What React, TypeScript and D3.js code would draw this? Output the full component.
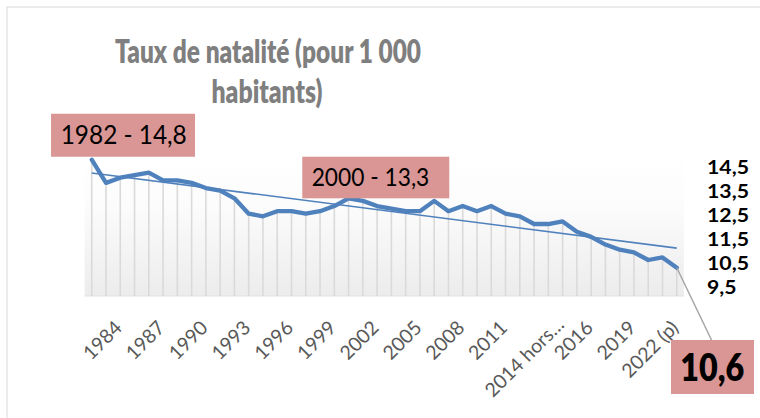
import React from "react";
import * as d3 from "d3";

const categories: string[] = [
  "1982", "1983", "1984", "1985", "1986", "1987", "1988", "1989", "1990", "1991",
  "1992", "1993", "1994", "1995", "1996", "1997", "1998", "1999", "2000", "2001",
  "2002", "2003", "2004", "2005", "2006", "2007", "2008", "2009", "2010", "2011",
  "2012", "2013", "2014 hors Mayotte", "2014", "2015", "2016", "2017", "2018", "2019", "2020",
  "2021", "2022 (p)",
];

const values: number[] = [
  14.8, 13.9, 14.1, 14.2, 14.3, 14.0, 14.0, 13.9, 13.7, 13.6,
  13.3, 12.7, 12.6, 12.8, 12.8, 12.7, 12.8, 13.0, 13.3, 13.2,
  13.0, 12.9, 12.8, 12.8, 13.2, 12.8, 13.0, 12.8, 13.0, 12.7,
  12.6, 12.3, 12.3, 12.4, 12.0, 11.8, 11.5, 11.3, 11.2, 10.9,
  11.0, 10.6,
];

const axisTicks: number[] = [14.5, 13.5, 12.5, 11.5, 10.5, 9.5];
const titleLines: string[] = ["Taux de natalité (pour 1 000", "habitants)"];
const annotations = [
  { index: 0, text: "1982 - 14,8" },
  { index: 18, text: "2000 - 13,3" },
];
const lastLabel = "10,6";

const FONT = "Lato, 'Open Sans', sans-serif";

export default function App() {
  const W = 760, H = 418;
  const plot = { left: 84.6, right: 683.9, top: 154.6, bottom: 296 };

  const x = d3.scaleBand<string>().domain(categories).range([plot.left, plot.right]);
  const cx = (i: number) => (x(categories[i]) as number) + x.bandwidth() / 2;
  const y = d3.scaleLinear().domain([9.5, 15]).range([plot.bottom, plot.top]);
  const yLab = d3.scaleLinear().domain([9.5, 14.5]).range([286.7, 166.7]);

  const line = d3.line<number>().x((_, i) => cx(i)).y((d) => y(d)).curve(d3.curveLinear);

  // linear trend (least squares)
  const n = values.length;
  const idx = d3.range(n);
  const mx = d3.mean(idx) as number;
  const my = d3.mean(values) as number;
  const slope =
    d3.sum(idx, (i) => (i - mx) * (values[i] - my)) / d3.sum(idx, (i) => (i - mx) * (i - mx));
  const icpt = my - slope * mx;
  const trend = [icpt, icpt + slope * (n - 1)];

  const tickIdx = idx.filter((i) => (i - 2) % 3 === 0);
  const shortLabel = (s: string) => (s.length > 10 ? s.slice(0, 9) + "…" : s);

  const lastI = n - 1;

  return (
    <svg width={W} height={H} style={{ position: "absolute", left: 0, top: 0, background: "#fff" }}>
      <defs>
        <linearGradient id="bg" x1="0" y1="0" x2="0" y2="1">
          <stop offset="0" stopColor="#ffffff" />
          <stop offset="0.35" stopColor="#fcfcfc" />
          <stop offset="1" stopColor="#ececec" />
        </linearGradient>
      </defs>
      <rect x={7} y={7} width={800} height={450} fill="#fff" stroke="#d9d9d9" strokeWidth={1} />

      {/* title */}
      <g fontFamily={FONT} fontWeight={800} fill="#7f7f7f" fontSize={32} textAnchor="middle">
        <text x={268} y={63.3} textLength={306} lengthAdjust="spacingAndGlyphs">{titleLines[0]}</text>
        <text x={267} y={103.3} textLength={111} lengthAdjust="spacingAndGlyphs">{titleLines[1]}</text>
      </g>

      {/* plot background */}
      <rect x={plot.left} y={plot.top} width={plot.right - plot.left} height={plot.bottom - plot.top} fill="url(#bg)" />
      <line x1={plot.left} x2={plot.right} y1={plot.bottom} y2={plot.bottom} stroke="#e3e3e3" strokeWidth={1} />

      {/* drop lines */}
      {values.map((v, i) => (
        <line key={i} x1={cx(i)} x2={cx(i)} y1={y(v)} y2={plot.bottom} stroke="#dadada" strokeWidth={1.6} />
      ))}

      {/* trend line */}
      <line x1={cx(0)} y1={y(trend[0])} x2={cx(n - 1)} y2={y(trend[1])} stroke="#4f81bd" strokeWidth={1.6} />

      {/* data line */}
      <path d={line(values) as string} fill="none" stroke="#4f81bd" strokeWidth={4.3} strokeLinejoin="round" strokeLinecap="round" />

      {/* leader line to last value */}
      <line x1={cx(lastI)} y1={y(values[lastI])} x2={711.5} y2={340} stroke="#a6a6a6" strokeWidth={1.5} />

      {/* x-axis labels */}
      <g fontFamily={FONT} fontSize={19.5} fill="#595959" textAnchor="end">
        {tickIdx.map((i) => {
          const lbl = shortLabel(categories[i]);
          const special = lbl.endsWith("…");
          const ex = cx(i) + (special ? 17 : 3);
          const ey = special ? 326 : 329;
          return (
            <text key={i} transform={`translate(${ex},${ey}) rotate(-45)`}>{lbl}</text>
          );
        })}
      </g>

      {/* right value labels */}
      <g fontFamily={FONT} fontSize={19} fontWeight={700} fill="#000">
        {axisTicks.map((t) => {
          const s = t.toFixed(1).replace(".", ",");
          return (
            <text key={t} x={707} y={yLab(t) + 7} textLength={s.length === 4 ? 42 : 29.5} lengthAdjust="spacingAndGlyphs">{s}</text>
          );
        })}
      </g>

      {/* annotations */}
      {annotations.map((a, k) => {
        const px = cx(a.index), py = y(values[a.index]);
        const box = k === 0
          ? { x: px - 40.7, y: py - 46, w: 144, h: 43, tx: px - 31, ty: py - 15.7, tl: 126, fs: 26.5 }
          : { x: px - 46.3, y: py - 41.6, w: 147, h: 41.6, tx: px - 36.9, ty: py - 12.6, tl: 117.6, fs: 25.5 };
        return (
          <g key={k}>
            <rect x={box.x} y={box.y} width={box.w} height={box.h} fill="#d99694" />
            <text x={box.tx} y={box.ty} fontFamily={FONT} fontSize={box.fs} fill="#000" textLength={box.tl} lengthAdjust="spacingAndGlyphs">{a.text}</text>
          </g>
        );
      })}

      {/* last value box */}
      <rect x={671} y={340} width={83} height={54} fill="#d99694" />
      <text x={712.3} y={380.5} textAnchor="middle" fontFamily={FONT} fontWeight={800} fontSize={37} fill="#000" textLength={64} lengthAdjust="spacingAndGlyphs">{lastLabel}</text>
    </svg>
  );
}
